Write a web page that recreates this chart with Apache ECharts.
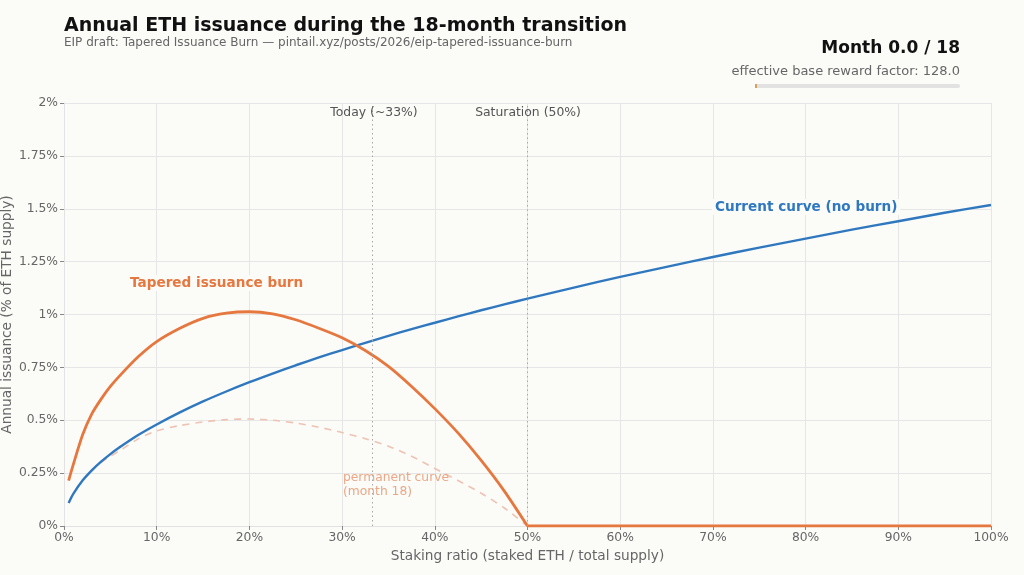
<!DOCTYPE html>
<html>
<head>
<meta charset="utf-8">
<script src="https://cdn.jsdelivr.net/npm/echarts@6/dist/echarts.min.js"></script>
<style>
  html, body { margin: 0; padding: 0; background: #fbfbf8; }
  #chart { width: 1024px; height: 575px; }
</style>
</head>
<body>
<div id="chart"></div>
<script>
// staking ratio (%) at which the curves were read
var stakeX = [0.5, 1, 2, 3, 4, 5, 6, 8, 10, 12.5, 15, 17.5, 20, 22.5, 25, 27.5, 30, 32.5, 35, 37.5, 40, 42.5, 45, 47.5, 50,
              55, 60, 65, 70, 75, 80, 85, 90, 95, 100];

// current curve (no burn), % of supply
var currentCurve = [0.109, 0.152, 0.215, 0.263, 0.304, 0.340, 0.372, 0.430, 0.480, 0.537, 0.589, 0.636, 0.680, 0.721, 0.760, 0.797, 0.832,
                    0.866, 0.899, 0.931, 0.961, 0.991, 1.020, 1.048, 1.075,
                    1.127, 1.178, 1.225, 1.272, 1.316, 1.359, 1.401, 1.441, 1.481, 1.518];

// tapered issuance burn (month 0)
var taperedCurve = [0.215, 0.29, 0.43, 0.53, 0.60, 0.66, 0.71, 0.80, 0.872, 0.935, 0.982, 1.006, 1.013, 1.003, 0.975, 0.935, 0.89,
                    0.83, 0.755, 0.66, 0.555, 0.44, 0.31, 0.165, 0,
                    0, 0, 0, 0, 0, 0, 0, 0, 0, 0];

// permanent curve (month 18), only up to saturation
var permanentCurve = [0.109, 0.152, 0.215, 0.263, 0.30, 0.33, 0.356, 0.412, 0.45, 0.475, 0.492, 0.503, 0.506, 0.500, 0.487, 0.467, 0.442,
                      0.413, 0.377, 0.33, 0.272, 0.215, 0.155, 0.085, 0];

var xTicks = [0, 10, 20, 30, 40, 50, 60, 70, 80, 90, 100];
var yTicks = [0, 0.25, 0.5, 0.75, 1, 1.25, 1.5, 1.75, 2];

var todayRatio = 33.3;
var saturationRatio = 50;

function pairs(xs, ys, from, to) {
    var out = [];
    for (var i = from; i < to; i++) out.push([xs[i], ys[i]]);
    return out;
}

var saturationIdx = stakeX.indexOf(saturationRatio);

var bg = '#fbfbf8';
var blue = '#2f78c0';
var orange = '#e5773f';
var font = 'DejaVu Sans';

function txt(x, y, s, color, size, weight, align, boxed) {
    var style = { text: s, fill: color, fontFamily: font, fontSize: size, fontWeight: weight || 'normal', textAlign: align || 'left' };
    if (boxed) {
        style.backgroundColor = bg;
        style.padding = [1, 3];
    }
    return { type: 'text', x: x, y: y, z: 10, style: style };
}

var myChart = echarts.init(document.getElementById('chart'));

var option = {
    backgroundColor: bg,
    animation: false,
    textStyle: { fontFamily: font },
    grid: { left: 64, right: 33, top: 103, bottom: 49, containLabel: false, outerBoundsMode: 'none' },
    xAxis: {
        type: 'value',
        min: xTicks[0],
        max: xTicks[xTicks.length - 1],
        interval: 10,
        name: 'Staking ratio (staked ETH / total supply)',
        nameLocation: 'middle',
        nameGap: 23,
        nameMoveOverlap: false,
        nameTextStyle: { color: '#666', fontSize: 13.7, fontFamily: font },
        axisLine: { show: true, lineStyle: { color: '#e2e2e2' } },
        axisTick: { show: true, length: 4, lineStyle: { color: '#888' } },
        axisLabel: { color: '#666', fontSize: 12.3, margin: 6, formatter: function (v) { return v + '%'; } },
        splitLine: { show: true, lineStyle: { color: '#e6e6e6' } }
    },
    yAxis: {
        type: 'value',
        min: yTicks[0],
        max: yTicks[yTicks.length - 1],
        interval: 0.25,
        name: 'Annual issuance (% of ETH supply)',
        nameLocation: 'middle',
        nameGap: 50,
        nameMoveOverlap: false,
        nameTextStyle: { color: '#666', fontSize: 13.7, fontFamily: font },
        axisLine: { show: true, lineStyle: { color: '#e2e2e2' } },
        axisTick: { show: true, length: 4, lineStyle: { color: '#888' } },
        axisLabel: { color: '#666', fontSize: 12.3, margin: 6, formatter: function (v) { return v + '%'; } },
        splitLine: { show: true, lineStyle: { color: '#e6e6e6' } }
    },
    series: [
        {
            name: 'Permanent curve (month 18)',
            type: 'line',
            data: pairs(stakeX, permanentCurve, 0, permanentCurve.length),
            showSymbol: false,
            smooth: 0.25,
            z: 1,
            lineStyle: { color: '#efc3b3', width: 1.6, type: [7, 6] }
        },
        {
            name: 'Current curve (no burn)',
            type: 'line',
            data: pairs(stakeX, currentCurve, 0, currentCurve.length),
            showSymbol: false,
            smooth: 0.25,
            z: 3,
            lineStyle: { color: blue, width: 2.4 },
            markLine: {
                silent: true,
                symbol: 'none',
                label: { show: false },
                lineStyle: { color: '#a8a8a8', type: [1.5, 3], width: 1 },
                data: [{ xAxis: todayRatio }, { xAxis: saturationRatio }]
            }
        },
        {
            name: 'Tapered issuance burn',
            type: 'line',
            data: pairs(stakeX, taperedCurve, 0, saturationIdx + 1),
            showSymbol: false,
            smooth: 0.25,
            z: 4,
            lineStyle: { color: orange, width: 2.8 }
        },
        {
            name: 'Tapered issuance burn (past saturation)',
            type: 'line',
            data: pairs(stakeX, taperedCurve, saturationIdx, taperedCurve.length),
            showSymbol: false,
            z: 4,
            lineStyle: { color: orange, width: 2.8 }
        }
    ],
    graphic: [
        txt(64, 17, 'Annual ETH issuance during the 18-month transition', '#111', 19, 'bold'),
        txt(64, 37, 'EIP draft: Tapered Issuance Burn \u2014 pintail.xyz/posts/2026/eip-tapered-issuance-burn', '#666', 12),
        txt(960, 40, 'Month 0.0 / 18', '#111', 17, 'bold', 'right'),
        txt(960, 65, 'effective base reward factor: 128.0', '#666', 13, 'normal', 'right'),
        { type: 'rect', shape: { x: 755, y: 84, width: 205, height: 4, r: 2 }, style: { fill: '#e2e2e2' } },
        { type: 'rect', shape: { x: 755, y: 84, width: 2, height: 4 }, style: { fill: '#d9a05a' } },
        txt(374, 107, 'Today (~33%)', '#555', 12.4, 'normal', 'center'),
        txt(528, 107, 'Saturation (50%)', '#555', 12.4, 'normal', 'center'),
        txt(712, 199, 'Current curve (no burn)', blue, 13.6, 'bold', 'left', true),
        txt(127, 275, 'Tapered issuance burn', orange, 13.6, 'bold', 'left', true),
        {
            type: 'text', x: 343, y: 471, z: 10,
            style: { text: 'permanent curve\n(month 18)', fill: '#eaa886', fontFamily: font, fontSize: 12.3, lineHeight: 14 }
        }
    ]
};

myChart.setOption(option);
</script>
</body>
</html>
